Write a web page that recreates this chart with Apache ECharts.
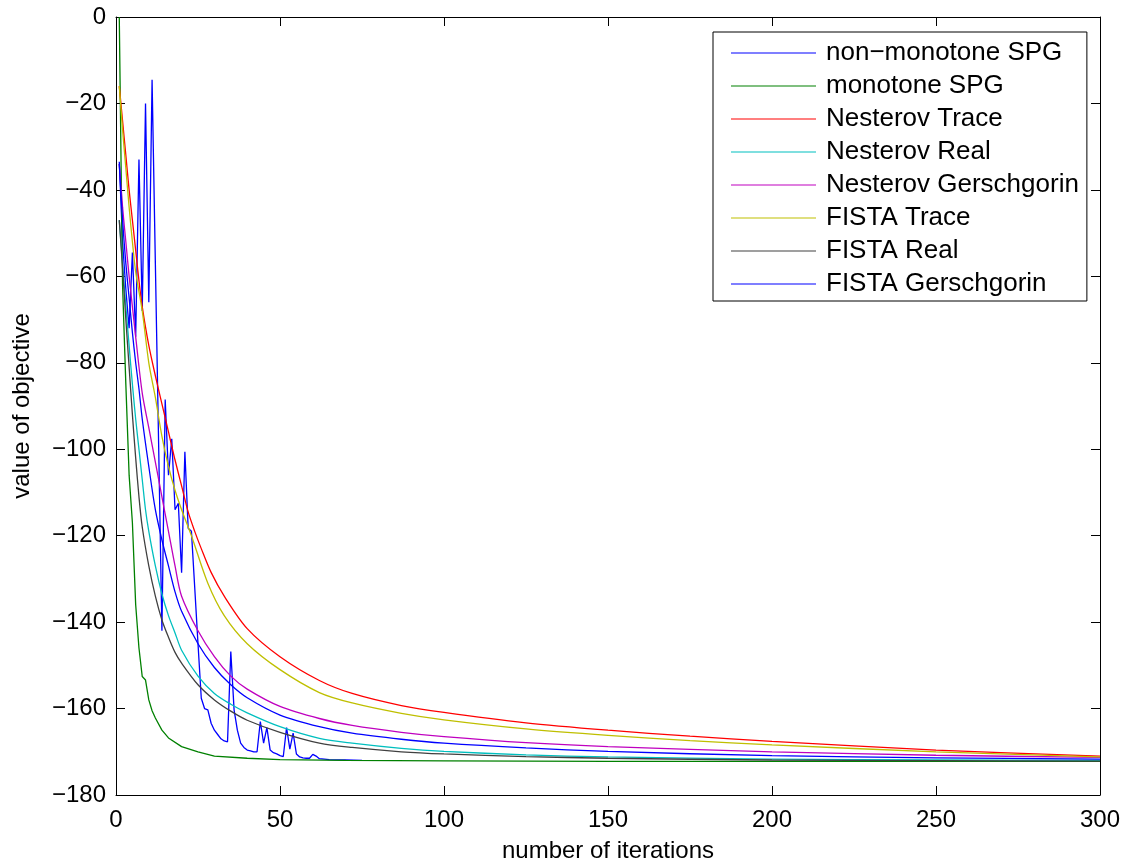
<!DOCTYPE html>
<html>
<head>
<meta charset="utf-8">
<script src="https://cdn.jsdelivr.net/npm/echarts@6/dist/echarts.min.js"></script>
<style>
  html, body { margin: 0; padding: 0; background: #fff; }
  #chart { width: 1130px; height: 862px; }
</style>
</head>
<body>
<div id="chart"></div>
<script>
// legend names
const seriesNames = [
  'non\u2212monotone SPG', 'monotone SPG', 'Nesterov Trace', 'Nesterov Real',
  'Nesterov Gerschgorin', 'FISTA Trace', 'FISTA Real', 'FISTA Gerschgorin'
];

// non-monotone SPG (spiky)
const nonMonoIter = [1,2,3,4,5,6,7,8,9,10,11,12,13,14,15,16,17,18,19,20,21,22,23,24,25,26,27,28,29,30,
  31,32,33,34,35,36,37,38,39,40,41,42,43,44,45,46,47,48,49,50,51,52,53,54,55,56,57,58,59,60,61,62,65,70,75];
const nonMonoVal = [-33.5,-52,-63,-72,-54.5,-74,-33,-68,-20,-66,-14.5,-57,-99,-142,-88.5,-106,-97.6,-114,-112.5,-128.6,
  -100.6,-118.3,-119,-132,-145,-157.6,-160,-160.3,-163.4,-165,-166,-167,-167.5,-167.7,-146.8,-160.3,-165,-168,-169,-169.6,
  -169.8,-170,-170,-163,-168,-164.4,-169.6,-170.2,-170.5,-170.9,-171.1,-164.4,-169.4,-165.7,-170.5,-171.2,-171.4,-171.5,-171.5,-170.6,
  -171,-171.6,-171.8,-171.9,-172];

// monotone SPG
const monoIter = [1,2,3,4,5,6,7,8,9,10,11,12,14,16,20,25,30,40,50,70,100,150,200,300];
const monoVal = [0,-62,-85,-106,-117,-136,-146,-152.6,-153.4,-158,-160.5,-162.2,-165,-166.8,-168.8,-170,-171,-171.5,-171.8,-172,-172.1,-172.2,-172.2,-172.2];

// Nesterov Trace
const nesTraceIter = [1,2,3,4,5,6,7,8,10,12,14,16,18,20,22,24,26,29,33,40,50,62,72,87,100,125,150,175,200,250,300];
const nesTraceVal = [-16,-24,-32,-40,-47,-54,-61,-67,-76,-83,-89.5,-96,-102.5,-108.5,-114.5,-119,-123,-128.5,-134,-141.5,-148,-153.5,-156.5,-159.3,-160.9,-163.3,-165,-166.4,-167.6,-169.6,-171];

// Nesterov Real
const nesRealIter = [1,2,3,4,5,6,7,8,9,10,12,14,16,18,20,25,30,35,40,50,62,72,87,100,125,150,200,250,300];
const nesRealVal = [-47,-57,-67,-76,-85,-93,-100,-107,-114,-119,-127,-133.5,-138.5,-142.5,-146.5,-152.5,-156.5,-159,-161,-164.2,-166.9,-168,-169.2,-169.9,-170.7,-171.2,-171.7,-171.9,-172];

// Nesterov Gerschgorin
const nesGerIter = [1,2,3,4,5,6,8,10,12,14,16,18,20,25,30,35,40,50,62,72,87,100,125,150,200,250,300];
const nesGerVal = [-34,-44,-52,-60,-67,-74,-87,-95,-103,-111,-119,-127,-134,-142,-148,-152.5,-155.5,-159.5,-162.3,-163.9,-165.5,-166.5,-167.9,-168.8,-170,-170.8,-171.3];

// FISTA Trace
const fisTraceIter = [1,2,3,4,5,6,8,10,12,14,16,18,20,23,28,33,40,50,62,72,87,100,125,150,175,200,250,300];
const fisTraceVal = [-16,-26,-35,-44,-52,-59,-68,-80,-88,-97,-104,-109.5,-114,-120,-131,-138.5,-145,-151,-156.3,-158.7,-161.1,-162.6,-164.7,-166.2,-167.4,-168.4,-170,-171.2];

// FISTA Real
const fisRealIter = [1,2,3,4,5,6,7,8,10,12,14,16,18,20,25,30,35,40,50,62,72,87,100,125,150,200,250,300];
const fisRealVal = [-47,-58,-70,-81,-92,-102,-111,-118,-127,-134,-139.5,-143.5,-147,-149.5,-154.5,-158,-160.6,-162.7,-165.5,-168,-169,-170,-170.5,-171.1,-171.5,-171.9,-172.05,-172.15];

// FISTA Gerschgorin
const fisGerIter = [1,2,3,4,5,6,7,8,10,12,14,16,18,20,25,30,35,40,50,62,72,87,100,125,150,200,250,300];
const fisGerVal = [-34,-47,-57,-65,-73,-80,-86,-93,-104,-114,-121,-127,-133,-137.5,-145,-150.5,-154.5,-157.5,-161.5,-164.2,-165.7,-167.1,-168,-169.1,-169.9,-170.9,-171.4,-171.7];

const xTicks = { min: 0, max: 300, interval: 50 };
const yTicks = { min: -180, max: 0, interval: 20 };

const colors = ['#0000ff', '#008000', '#ff0000', '#00bfbf', '#bf00bf', '#bfbf00', '#404040', '#0000ff'];
// the two SPG runs are drawn segment by segment, the others as smooth curves
const smoothed = [false, false, true, true, true, true, true, true];

const iters = [nonMonoIter, monoIter, nesTraceIter, nesRealIter, nesGerIter, fisTraceIter, fisRealIter, fisGerIter];
const vals = [nonMonoVal, monoVal, nesTraceVal, nesRealVal, nesGerVal, fisTraceVal, fisRealVal, fisGerVal];

const pairs = (xs, ys) => xs.map((x, i) => [x, ys[i]]);
const minus = (v) => String(v).replace('-', '\u2212');
const FONT = 'Liberation Sans, Arial, Helvetica, sans-serif';

const chart = echarts.init(document.getElementById('chart'));

const axisCommon = {
  axisLine: { show: true, onZero: false, lineStyle: { color: '#000', width: 1 } },
  axisTick: { show: true, inside: true, length: 9, lineStyle: { color: '#000' } },
  splitLine: { show: false },
};

const option = {
  animation: false,
  backgroundColor: '#fff',
  grid: { left: 116, right: 30, top: 17, bottom: 67, containLabel: false, outerBoundsMode: 'none' },
  legend: {
    orient: 'vertical',
    left: 713,
    top: 32,
    padding: [8, 8, 4, 18],
    itemGap: 7,
    itemWidth: 85,
    itemHeight: 26,
    icon: 'path://M0,12.4 L85,12.4 L85,13.6 L0,13.6 Z',
    borderColor: '#000',
    borderWidth: 1,
    borderRadius: 0,
    backgroundColor: '#fff',
    textStyle: { fontFamily: FONT, fontSize: 26, color: '#000', padding: [0, 0, 0, 5] },
    data: seriesNames,
  },
  xAxis: [
    {
      type: 'value', ...xTicks, ...axisCommon,
      name: 'number of iterations', nameLocation: 'middle', nameGap: 44,
      nameTextStyle: { fontFamily: FONT, fontSize: 24, color: '#000' },
      axisLabel: { fontFamily: FONT, fontSize: 24, color: '#000', margin: 13 },
    },
    {
      type: 'value', position: 'top', ...xTicks, ...axisCommon,
      axisLabel: { show: false },
    },
  ],
  yAxis: [
    {
      type: 'value', ...yTicks, ...axisCommon,
      name: 'value of objective', nameLocation: 'middle', nameGap: 82,
      nameTextStyle: { fontFamily: FONT, fontSize: 24, color: '#000' },
      axisLabel: { fontFamily: FONT, fontSize: 24, color: '#000', margin: 10, formatter: minus },
    },
    {
      type: 'value', position: 'right', ...yTicks, ...axisCommon,
      axisLabel: { show: false },
    },
  ],
  series: seriesNames.map((name, i) => ({
    name,
    type: 'line',
    data: pairs(iters[i], vals[i]),
    symbol: 'none',
    smooth: smoothed[i] ? 0.3 : false,
    color: colors[i],
    lineStyle: { color: colors[i], width: 1.3 },
    z: 2 + i,
  })),
};

chart.setOption(option);

window.addEventListener('resize', () => chart.resize());
</script>
</body>
</html>
